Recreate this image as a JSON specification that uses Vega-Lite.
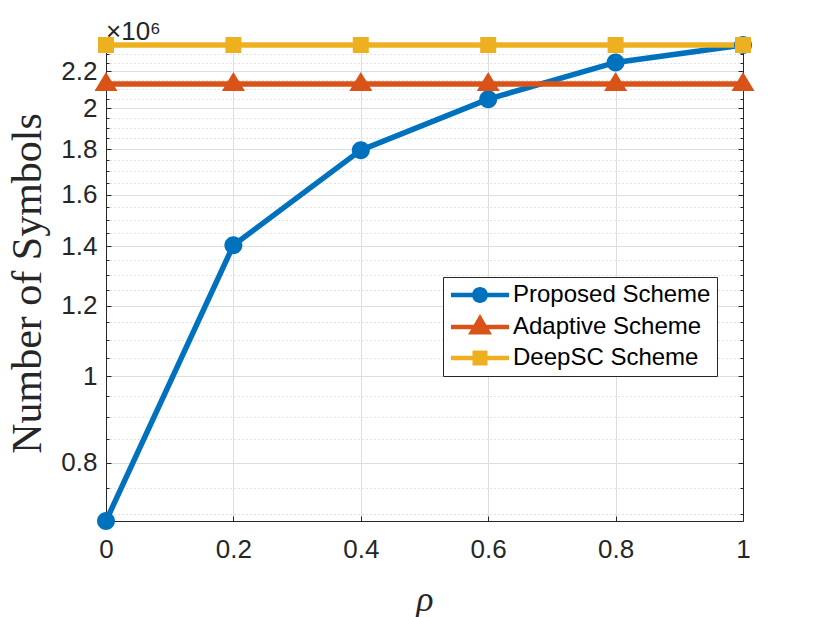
{
  "$schema": "https://vega.github.io/schema/vega-lite/v6.json",
  "width": 637,
  "height": 476,
  "autosize": "none",
  "padding": {"left": 106, "top": 45, "right": 79, "bottom": 96},
  "background": "white",
  "title": {
    "text": "×10⁶",
    "anchor": "start",
    "frame": "group",
    "fontSize": 26,
    "font": "Liberation Sans",
    "fontWeight": "normal",
    "color": "#262626",
    "offset": 2,
    "dy": 14
  },
  "config": {
    "view": {"stroke": null},
    "axis": {
      "domainColor": "#262626",
      "domainWidth": 1,
      "tickColor": "#262626",
      "tickWidth": 1,
      "labelFont": "Liberation Sans",
      "labelFontSize": 26,
      "labelColor": "#262626",
      "labelOverlap": false,
      "labelFlush": false,
      "titleFontWeight": "normal",
      "titleColor": "#262626"
    }
  },
  "data": {
    "values": [
      {"scheme": "Proposed Scheme", "rho": 0, "symbols": 688000},
      {"scheme": "Proposed Scheme", "rho": 0.2, "symbols": 1404000},
      {"scheme": "Proposed Scheme", "rho": 0.4, "symbols": 1795000},
      {"scheme": "Proposed Scheme", "rho": 0.6, "symbols": 2048000},
      {"scheme": "Proposed Scheme", "rho": 0.8, "symbols": 2252000},
      {"scheme": "Proposed Scheme", "rho": 1, "symbols": 2356000},
      {"scheme": "Adaptive Scheme", "rho": 0, "symbols": 2130000},
      {"scheme": "Adaptive Scheme", "rho": 0.2, "symbols": 2130000},
      {"scheme": "Adaptive Scheme", "rho": 0.4, "symbols": 2130000},
      {"scheme": "Adaptive Scheme", "rho": 0.6, "symbols": 2130000},
      {"scheme": "Adaptive Scheme", "rho": 0.8, "symbols": 2130000},
      {"scheme": "Adaptive Scheme", "rho": 1, "symbols": 2130000},
      {"scheme": "DeepSC Scheme", "rho": 0, "symbols": 2356000},
      {"scheme": "DeepSC Scheme", "rho": 0.2, "symbols": 2356000},
      {"scheme": "DeepSC Scheme", "rho": 0.4, "symbols": 2356000},
      {"scheme": "DeepSC Scheme", "rho": 0.6, "symbols": 2356000},
      {"scheme": "DeepSC Scheme", "rho": 0.8, "symbols": 2356000},
      {"scheme": "DeepSC Scheme", "rho": 1, "symbols": 2356000}
    ]
  },
  "layer": [
    {
      "mark": {"type": "line", "strokeWidth": 5.5},
      "encoding": {
        "x": {
          "field": "rho",
          "type": "quantitative",
          "scale": {"domain": [0, 1], "nice": false},
          "axis": {
            "orient": "bottom",
            "values": [0, 0.2, 0.4, 0.6, 0.8, 1],
            "format": "~g",
            "title": "ρ",
            "titleFont": "Liberation Serif",
            "titleFontStyle": "italic",
            "titleFontSize": 36,
            "titlePadding": 20,
            "labelPadding": 20,
            "grid": true,
            "gridColor": "#dedede",
            "tickSize": -5
          }
        },
        "y": {
          "field": "symbols",
          "type": "quantitative",
          "scale": {"type": "log", "domain": [688000, 2356000], "nice": false, "zero": false},
          "axis": {
            "orient": "left",
            "values": [700000, 750000, 800000, 850000, 900000, 950000, 1000000, 1050000, 1100000, 1150000, 1200000, 1250000, 1300000, 1350000, 1400000, 1450000, 1500000, 1550000, 1600000, 1650000, 1700000, 1750000, 1800000, 1850000, 1900000, 1950000, 2000000, 2050000, 2100000, 2150000, 2200000, 2250000, 2300000, 2350000],
            "labelExpr": "indexof([800000,1000000,1200000,1400000,1600000,1800000,2000000,2200000], datum.value) >= 0 ? format(datum.value / 1000000, '~g') : ''",
            "title": "Number of Symbols",
            "titleFont": "Liberation Serif",
            "titleFontSize": 42,
            "titlePadding": 11,
            "labelPadding": 14,
            "grid": true,
            "gridColor": {
              "condition": {"test": "indexof([800000,1000000,1200000,1400000,1600000,1800000,2000000,2200000], datum.value) >= 0", "value": "#dedede"},
              "value": "#c4c4c4"
            },
            "gridDash": {
              "condition": {"test": "indexof([800000,1000000,1200000,1400000,1600000,1800000,2000000,2200000], datum.value) >= 0", "value": []},
              "value": [1, 3]
            },
            "tickSize": {
              "condition": {"test": "indexof([800000,1000000,1200000,1400000,1600000,1800000,2000000,2200000], datum.value) >= 0", "value": -5},
              "value": -3
            }
          }
        },
        "color": {
          "field": "scheme",
          "type": "nominal",
          "scale": {
            "domain": ["Proposed Scheme", "Adaptive Scheme", "DeepSC Scheme"],
            "range": ["#0072BD", "#D95319", "#EDB120"]
          },
          "legend": {
            "title": null,
            "orient": "none",
            "legendX": 337,
            "legendY": 232,
            "fillColor": "white",
            "strokeColor": "#262626",
            "padding": 6,
            "symbolSize": 400,
            "symbolOffset": 19,
            "labelOffset": 21,
            "labelLimit": 400,
            "rowPadding": 7,
            "labelFont": "Liberation Sans",
            "labelFontSize": 24,
            "labelColor": "black",
            "symbolStrokeWidth": 0,
            "symbolOpacity": 1,
            "symbolType": {"expr": "datum.value === 'Proposed Scheme' ? 'M-2.9,-0.22L2.9,-0.22L2.9,0.22L-2.9,0.22ZM0.8,0A0.8,0.8 0 1,1 -0.8,0A0.8,0.8 0 1,1 0.8,0Z' : datum.value === 'Adaptive Scheme' ? 'M-2.9,-0.22L2.9,-0.22L2.9,0.22L-2.9,0.22ZM0,-1.3L1.2,0.75L-1.2,0.75Z' : 'M-2.9,-0.22L2.9,-0.22L2.9,0.22L-2.9,0.22ZM-0.75,-0.75L0.75,-0.75L0.75,0.75L-0.75,0.75Z'"},
            "symbolFillColor": {"expr": "datum.value === 'Proposed Scheme' ? '#0072BD' : datum.value === 'Adaptive Scheme' ? '#D95319' : '#EDB120'"}
          }
        }
      }
    },
    {
      "transform": [{"filter": "datum.scheme === 'Proposed Scheme'"}],
      "mark": {"type": "point", "shape": "M0.9,0A0.9,0.9 0 1,1 -0.9,0A0.9,0.9 0 1,1 0.9,0Z", "filled": true, "color": "#0072BD", "opacity": 1, "strokeWidth": 0, "size": 400},
      "encoding": {
        "x": {
          "field": "rho",
          "type": "quantitative",
          "axis": {
            "orient": "top",
            "values": [0, 0.2, 0.4, 0.6, 0.8, 1],
            "labels": false,
            "grid": false,
            "title": null,
            "tickSize": -5
          }
        },
        "y": {
          "field": "symbols",
          "type": "quantitative",
          "axis": {
            "orient": "right",
            "values": [700000, 750000, 800000, 850000, 900000, 950000, 1000000, 1050000, 1100000, 1150000, 1200000, 1250000, 1300000, 1350000, 1400000, 1450000, 1500000, 1550000, 1600000, 1650000, 1700000, 1750000, 1800000, 1850000, 1900000, 1950000, 2000000, 2050000, 2100000, 2150000, 2200000, 2250000, 2300000, 2350000],
            "labels": false,
            "grid": false,
            "title": null,
            "tickSize": {
              "condition": {"test": "indexof([800000,1000000,1200000,1400000,1600000,1800000,2000000,2200000], datum.value) >= 0", "value": -5},
              "value": -3
            }
          }
        }
      }
    },
    {
      "transform": [{"filter": "datum.scheme === 'Adaptive Scheme'"}],
      "mark": {"type": "point", "shape": "M0,-1.2L1.15,0.7L-1.15,0.7Z", "filled": true, "color": "#D95319", "opacity": 1, "strokeWidth": 0, "size": 400},
      "encoding": {
        "x": {"field": "rho", "type": "quantitative", "axis": null},
        "y": {"field": "symbols", "type": "quantitative", "axis": null}
      }
    },
    {
      "transform": [{"filter": "datum.scheme === 'DeepSC Scheme'"}],
      "mark": {"type": "point", "shape": "M-0.8,-0.8L0.8,-0.8L0.8,0.8L-0.8,0.8Z", "filled": true, "color": "#EDB120", "opacity": 1, "strokeWidth": 0, "size": 400},
      "encoding": {
        "x": {"field": "rho", "type": "quantitative", "axis": null},
        "y": {"field": "symbols", "type": "quantitative", "axis": null}
      }
    }
  ],
  "resolve": {"axis": {"x": "independent", "y": "independent"}}
}
